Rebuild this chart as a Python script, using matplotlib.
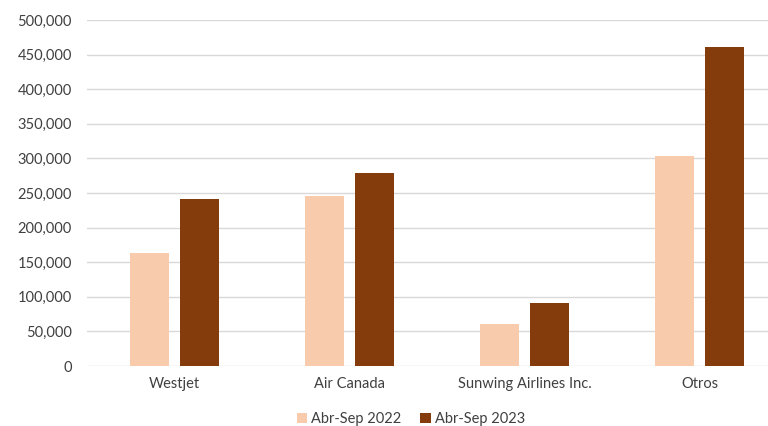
import matplotlib
matplotlib.use("Agg")
import matplotlib.pyplot as plt
from matplotlib.ticker import FuncFormatter
import numpy as np

categories = ["Westjet", "Air Canada", "Sunwing Airlines Inc.", "Otros"]
series_names = ["Abr-Sep 2022", "Abr-Sep 2023"]
values_2022 = [163000, 245000, 60000, 303500]
values_2023 = [242000, 278500, 91000, 461500]
colors = ["#F8CBAD", "#843C0C"]

plt.rcParams['font.family'] = ['Lato', 'DejaVu Sans']

fig = plt.figure(figsize=(7.68, 4.26), dpi=100)
W, H = 768, 426
ax = fig.add_axes([87 / W, 1 - 366 / H, 700 / W, 346 / H])

x = np.arange(len(categories))
bw = 0.223
off = 0.141
ax.bar(x - off, values_2022, bw, color=colors[0], label=series_names[0], zorder=3)
ax.bar(x + off, values_2023, bw, color=colors[1], label=series_names[1], zorder=3)

ax.set_xlim(-0.5, len(categories) - 0.5)
ax.set_ylim(0, 500000)
ax.set_yticks(np.arange(0, 500001, 50000))
ax.yaxis.set_major_formatter(FuncFormatter(lambda v, p: f"{int(v):,}"))
ax.set_xticks(x)
ax.set_xticklabels(categories)
ax.grid(axis='y', color='#D9D9D9', linewidth=1, zorder=0)
ax.set_axisbelow(True)
for s in ax.spines.values():
    s.set_visible(False)
ax.tick_params(axis='both', length=0, labelsize=10.5, colors='#404040')
ax.tick_params(axis='y', pad=11)
ax.tick_params(axis='x', pad=8)

handles, labels = ax.get_legend_handles_labels()
fig.legend(handles, labels, loc='center', bbox_to_anchor=(411 / W, 1 - 419 / H), ncol=2,
           frameon=False, fontsize=10.5, handlelength=0.7, handleheight=0.7,
           handletextpad=0.3, columnspacing=1.3, labelcolor='#404040')

fig.savefig("out.png", dpi=100)
